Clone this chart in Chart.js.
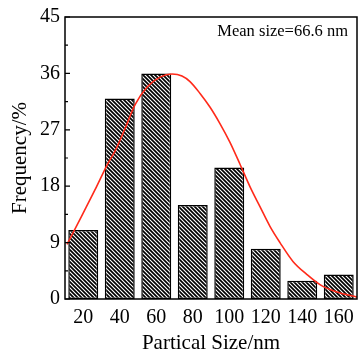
<!DOCTYPE html>
<html>
<head>
<meta charset="utf-8">
<script src="https://cdn.jsdelivr.net/npm/chart.js@4/dist/chart.umd.min.js"></script>
<style>
html,body{margin:0;padding:0;background:#fff;}
#wrap{width:359px;height:356px;}
</style>
</head>
<body>
<div id="wrap"><canvas id="c"></canvas></div>
<script>
const categories = ['20','40','60','80','100','120','140','160'];
const frequency = [11, 32, 36, 15, 21, 8, 2.9, 3.9];
const fitSize = [11.1, 18.2, 26.4, 33.6, 37.4, 42.9, 48.4, 54.9, 62.1, 68.6, 74.1, 78.5, 84.0, 89.5, 94.9, 100.4, 105.9, 111.4, 116.9, 122.3, 127.8, 134.9, 142.6, 149.7, 159.0, 170];
const fitFreq = [8.7, 12.7, 17.4, 21.7, 23.6, 27.2, 31.0, 33.8, 35.4, 35.9, 35.6, 34.7, 32.8, 30.6, 28.0, 25.0, 21.5, 17.9, 14.7, 11.6, 9.0, 6.0, 3.9, 2.3, 1.1, 0.3];
const yTicks = [0, 9, 18, 27, 36, 45];
const annotation = 'Mean size=66.6 nm';

function hatch() {
  const t = document.createElement('canvas');
  t.width = 4; t.height = 4;
  const g = t.getContext('2d');
  g.fillStyle = '#fff'; g.fillRect(0,0,4,4);
  g.strokeStyle = '#000'; g.lineWidth = 1.7;
  g.beginPath();
  g.moveTo(-1,-1); g.lineTo(5,5);
  g.moveTo(-1,3); g.lineTo(1,5);
  g.moveTo(3,-1); g.lineTo(5,1);
  g.stroke();
  return document.getElementById('c').getContext('2d').createPattern(t,'repeat');
}

const framePlugin = {
  id: 'frame',
  afterDatasetsDraw(chart) {
    const {ctx, chartArea: a, scales} = chart;
    const y = scales.y;
    ctx.save();
    ctx.strokeStyle = '#000';
    ctx.lineWidth = 1.5;
    ctx.strokeRect(a.left, a.top, a.right - a.left, a.bottom - a.top);
    ctx.lineWidth = 1.2;
    ctx.beginPath();
    for (let v = 0; v <= 45; v += 4.5) {
      const p = y.getPixelForValue(v);
      const major = Math.abs(v / 9 - Math.round(v / 9)) < 1e-6;
      ctx.moveTo(a.left, p);
      ctx.lineTo(a.left + (major ? 5 : 3), p);
    }
    ctx.stroke();
    ctx.fillStyle = '#000';
    ctx.font = '16.5px "Liberation Serif"';
    ctx.textAlign = 'right';
    ctx.textBaseline = 'alphabetic';
    ctx.fillText(annotation, a.right - 9, a.top + 18.5);
    ctx.restore();
  }
};

new Chart(document.getElementById('c'), {
  data: {
    labels: categories,
    datasets: [
      {
        type: 'line',
        data: fitSize.map((x, i) => ({x: x, y: fitFreq[i]})),
        xAxisID: 'x2',
        borderColor: '#ff2a1a',
        borderWidth: 1.6,
        pointRadius: 0,
        cubicInterpolationMode: 'monotone',
        order: 0
      },
      {
        type: 'bar',
        data: frequency,
        xAxisID: 'x',
        grouped: false,
        backgroundColor: hatch(),
        borderColor: '#000',
        borderWidth: 1.5,
        borderSkipped: false,
        barPercentage: 0.82,
        categoryPercentage: 1,
        order: 1
      }
    ]
  },
  options: {
    responsive: true,
    maintainAspectRatio: false,
    animation: false,
    layout: {padding: {top: 14.5, right: 2, left: 0, bottom: 0}},
    plugins: {legend: {display: false}, tooltip: {enabled: false}},
    scales: {
      x: {
        type: 'category',
        offset: true,
        grid: {display: false, drawTicks: false},
        border: {display: false},
        afterFit(s) { s.height = 57; s.paddingLeft = 0; s.paddingRight = 0; },
        ticks: {
          color: '#000', autoSkip: false, maxRotation: 0, padding: 7,
          font: {family: 'Liberation Serif', size: 20}
        },
        title: {
          display: true, text: 'Partical Size/nm', color: '#000',
          font: {family: 'Liberation Serif', size: 21},
          padding: {top: 0, bottom: 0}
        }
      },
      x2: {
        type: 'linear', display: false, min: 10, max: 170
      },
      y: {
        min: 0, max: 45,
        afterBuildTicks(s) { s.ticks = yTicks.map(v => ({value: v})); },
        afterFit(s) { s.width = 65; },
        grid: {display: false, drawTicks: false},
        border: {display: false},
        ticks: {
          color: '#000', padding: 5,
          font: {family: 'Liberation Serif', size: 20}
        },
        title: {
          display: true, text: 'Frequency/%', color: '#000',
          font: {family: 'Liberation Serif', size: 21},
          padding: {top: 8, bottom: 1}
        }
      }
    }
  },
  plugins: [framePlugin]
});
</script>
</body>
</html>
